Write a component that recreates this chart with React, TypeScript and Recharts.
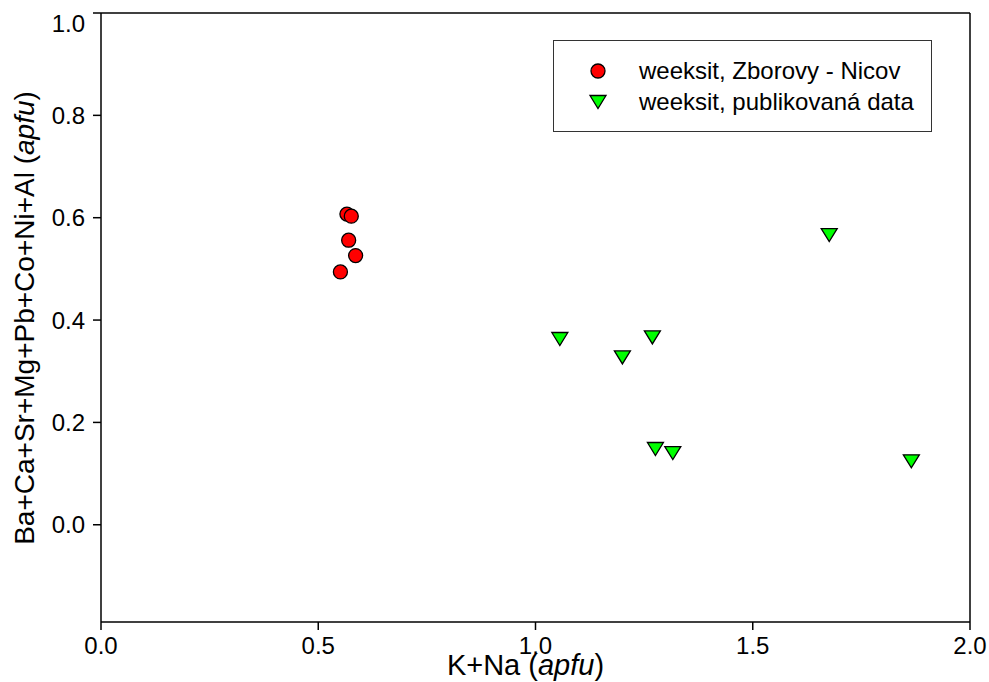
import React from "react";
import {
  ScatterChart,
  Scatter,
  XAxis,
  YAxis,
  ReferenceLine,
  Label,
} from "recharts";

// weeksit, Zborovy - Nicov
const localX = [0.566, 0.576, 0.57, 0.586, 0.551];
const localY = [0.607, 0.603, 0.556, 0.526, 0.494];

// weeksit, publikovaná data
const pubX = [1.056, 1.269, 1.2, 1.276, 1.316, 1.676, 1.865];
const pubY = [0.363, 0.366, 0.327, 0.148, 0.14, 0.566, 0.124];

const xTicks = [0, 0.5, 1.0, 1.5, 2.0];
const yTicks = [0, 0.2, 0.4, 0.6, 0.8, 1.0];

const seriesNames = ["weeksit, Zborovy - Nicov", "weeksit, publikovaná data"];

const localData = localX.map((x, i) => ({ x, y: localY[i] }));
const pubData = pubX.map((x, i) => ({ x, y: pubY[i] }));

const FONT = "'Liberation Sans', Arial, sans-serif";

const Circle = (props: any) => (
  <circle cx={props.cx} cy={props.cy} r={7} fill="#ff0000" stroke="#000" strokeWidth={1.3} />
);

const Triangle = (props: any) => {
  const { cx, cy } = props;
  return (
    <polygon
      points={`${cx - 8},${cy - 6.5} ${cx + 8},${cy - 6.5} ${cx},${cy + 6.5}`}
      fill="#00ff00"
      stroke="#000"
      strokeWidth={1.3}
    />
  );
};

const YTick = (props: any) => {
  const { x, y, payload } = props;
  const yy = Math.max(y, 23);
  return (
    <text x={x} y={yy} dy="0.36em" textAnchor="end" fontSize={24} fontFamily={FONT} fill="#000">
      {payload.value.toFixed(1)}
    </text>
  );
};

// legend drawn as overlay so it doesn't eat plot space
const LegendBox = () => (
  <div
    style={{
      position: "absolute",
      left: 553,
      top: 40,
      width: 379,
      height: 92,
      border: "1.5px solid #333",
      boxSizing: "border-box",
      background: "#fff",
    }}
  >
    <svg width={379} height={92} style={{ position: "absolute", left: -1.5, top: -1.5 }}>
      <Circle cx={45} cy={31} />
      <Triangle cx={45} cy={62} />
      <text x={86} y={39} fontSize={24} fontFamily={FONT} fill="#000">
        {seriesNames[0]}
      </text>
      <text x={86} y={70} fontSize={24} fontFamily={FONT} fill="#000">
        {seriesNames[1]}
      </text>
    </svg>
  </div>
);

export default function App() {
  return (
    <div style={{ position: "absolute", left: 0, top: 0, width: 989, height: 682, background: "#fff" }}>
      <ScatterChart
        width={989}
        height={682}
        margin={{ top: 13, right: 19, bottom: 20, left: 41 }}
      >
        <XAxis
          type="number"
          dataKey="x"
          domain={[0, 2]}
          ticks={xTicks}
          tickFormatter={(v: number) => v.toFixed(1)}
          height={40}
          tickSize={8}
          tickMargin={7}
          stroke="#000"
          strokeWidth={1.5}
          tick={{ fontSize: 24, fontFamily: FONT, fill: "#000" }}
          allowDataOverflow
        >
          <Label
            content={(p: any) => {
              const vb = p.viewBox;
              return (
                <text
                  x={vb.x + vb.width / 2 - 10}
                  y={675}
                  textAnchor="middle"
                  fontSize={29}
                  fontFamily={FONT}
                  fill="#000"
                >
                  K+Na (<tspan fontStyle="italic">apfu</tspan>)
                </text>
              );
            }}
          />
        </XAxis>
        <YAxis
          type="number"
          dataKey="y"
          domain={[-0.19, 1]}
          ticks={yTicks}
          width={60}
          tickSize={8}
          tickMargin={8}
          stroke="#000"
          strokeWidth={1.5}
          tick={<YTick />}
          allowDataOverflow
        >
          <Label
            content={() => (
              <text
                x={34}
                y={318}
                transform="rotate(-90 34 318)"
                textAnchor="middle"
                fontSize={28}
                fontFamily={FONT}
                fill="#000"
              >
                Ba+Ca+Sr+Mg+Pb+Co+Ni+Al (<tspan fontStyle="italic">apfu</tspan>)
              </text>
            )}
          />
        </YAxis>
        <ReferenceLine y={1} stroke="#000" strokeWidth={1.5} />
        <ReferenceLine x={2} stroke="#000" strokeWidth={1.5} />
        <Scatter
          name={seriesNames[0]}
          data={localData}
          shape={<Circle />}
          isAnimationActive={false}
        />
        <Scatter
          name={seriesNames[1]}
          data={pubData}
          shape={<Triangle />}
          isAnimationActive={false}
        />
      </ScatterChart>
      <LegendBox />
    </div>
  );
}
